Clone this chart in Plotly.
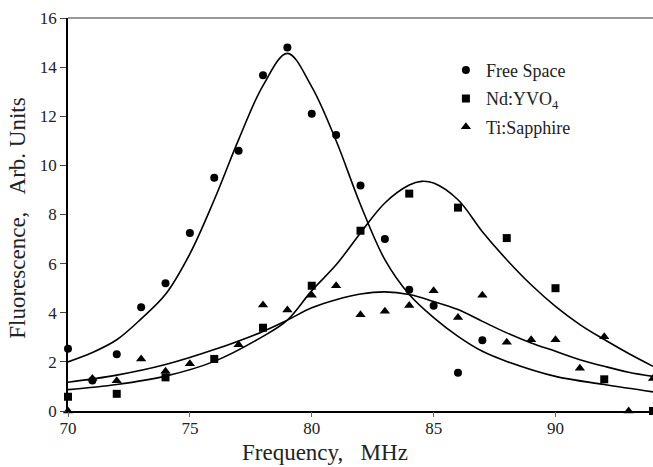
import plotly.graph_objects as go

# ---- data ----
fs_x = [70, 71, 72, 73, 74, 75, 76, 77, 78, 79, 80, 81, 82, 83, 84, 85, 86, 87]
fs_y = [2.53, 1.24, 2.31, 4.22, 5.2, 7.25, 9.5, 10.6, 13.67, 14.8, 12.1, 11.24, 9.18, 7.0, 4.94, 4.29, 1.56, 2.88]

nd_x = [70, 72, 74, 76, 78, 80, 82, 84, 86, 88, 90, 92, 94]
nd_y = [0.58, 0.70, 1.37, 2.12, 3.39, 5.1, 7.34, 8.85, 8.28, 7.04, 5.0, 1.29, 0.0]

ti_x = [70, 71, 72, 73, 74, 75, 77, 78, 79, 80, 81, 82, 83, 84, 85, 86, 87, 88, 89, 90, 91, 92, 93, 94]
ti_y = [0.0, 1.32, 1.23, 2.12, 1.62, 1.92, 2.7, 4.32, 4.11, 4.71, 5.1, 3.92, 4.06, 4.3, 4.9, 3.81, 4.71, 2.8, 2.9, 2.9, 1.74, 3.02, 0.0, 1.32]

# fitted curves
fs_fit_x = [70, 71, 72, 73, 74, 75, 76, 77, 78, 79, 80, 81, 82, 83, 84, 85, 86, 87, 88, 90, 92, 94]
fs_fit_y = [2.0, 2.38, 2.9, 3.75, 4.75, 6.4, 8.6, 11.05, 13.25, 14.56, 13.2, 11.0, 8.4, 6.16, 4.74, 3.8, 3.04, 2.43, 2.02, 1.41, 1.08, 0.78]

nd_fit_x = [70, 72, 74, 76, 78, 79, 80, 81, 82, 83, 84, 84.5, 85, 86, 87, 88, 89, 90, 91, 92, 93, 94]
nd_fit_y = [0.87, 1.08, 1.42, 2.02, 3.04, 3.7, 4.9, 5.95, 7.25, 8.47, 9.2, 9.35, 9.28, 8.6, 7.3, 6.16, 5.14, 4.26, 3.52, 2.91, 2.34, 1.82]

ti_fit_x = [70, 72, 74, 76, 78, 79, 80, 81, 82, 83, 84, 85, 86, 87, 88, 89, 90, 91, 92, 93, 94]
ti_fit_y = [1.17, 1.46, 1.89, 2.5, 3.24, 3.7, 4.2, 4.53, 4.76, 4.85, 4.74, 4.46, 4.13, 3.65, 3.18, 2.77, 2.43, 2.09, 1.82, 1.58, 1.41]

x_ticks = [70, 75, 80, 85, 90]
y_ticks = [0, 2, 4, 6, 8, 10, 12, 14, 16]

FONT = "Liberation Serif"

fig = go.Figure()
line_style = dict(color="black", width=1.6, shape="spline", smoothing=1.0)
for fx, fy in [(fs_fit_x, fs_fit_y), (nd_fit_x, nd_fit_y), (ti_fit_x, ti_fit_y)]:
    fig.add_trace(go.Scatter(x=fx, y=fy, mode="lines", line=line_style,
                             showlegend=False, hoverinfo="skip", cliponaxis=False))

fig.add_trace(go.Scatter(x=fs_x, y=fs_y, mode="markers", name="Free Space",
                         legendgroup="a",
                         marker=dict(symbol="circle", size=8, color="black"),
                         cliponaxis=False))
fig.add_trace(go.Scatter(x=nd_x, y=nd_y, mode="markers", name="Nd:YVO<sub>4</sub>",
                         legendgroup="b",
                         marker=dict(symbol="square", size=8, color="black"),
                         cliponaxis=False))
fig.add_trace(go.Scatter(x=ti_x, y=ti_y, mode="markers", name="Ti:Sapphire",
                         legendgroup="c",
                         marker=dict(symbol="triangle-up", size=9, color="black"),
                         cliponaxis=False))
# empty trace so the tick-mark axis (x2) is drawn
fig.add_trace(go.Scatter(x=[], y=[], xaxis="x2", showlegend=False, hoverinfo="skip"))

fig.update_layout(
    width=653, height=467,
    margin=dict(l=68, r=0, t=18, b=56),
    paper_bgcolor="white", plot_bgcolor="white",
    font=dict(family=FONT, color="#222", size=15),
    showlegend=True,
    legend=dict(x=0.646, y=0.914, xanchor="left", yanchor="top",
                font=dict(family=FONT, size=18, color="#222"),
                traceorder="grouped", tracegroupgap=2,
                bgcolor="rgba(0,0,0,0)", itemwidth=30),
    xaxis=dict(range=[70, 94], tickvals=x_ticks, ticks="",
               showgrid=False, zeroline=False,
               showline=True, linecolor="black", linewidth=1.5,
               ticklabelstandoff=1,
               tickfont=dict(family=FONT, size=17, color="#222")),
    xaxis2=dict(range=[70, 94], tickvals=x_ticks, ticks="outside", ticklen=5,
                tickcolor="#666", tickwidth=1, overlaying="x", anchor="y",
                side="bottom", showticklabels=False, showgrid=False,
                zeroline=False, showline=False),
    yaxis=dict(range=[0, 16], tickvals=y_ticks, ticks="outside", ticklen=6,
               tickcolor="#444", tickwidth=1, showgrid=False, zeroline=False,
               showline=True, linecolor="black", linewidth=1.5,
               tickfont=dict(family=FONT, size=17, color="#222")),
    annotations=[
        dict(text="Frequency,\u00a0\u00a0\u00a0MHz", xref="paper", yref="paper",
             x=(324.5 - 68) / 585, y=-(468 - 411.5) / 393.5, xanchor="center", yanchor="bottom",
             showarrow=False, font=dict(family=FONT, size=23, color="#222")),
        dict(text="Fluorescence,\u00a0\u00a0\u00a0Arb. Units", xref="paper", yref="paper",
             x=-(68 - 18) / 585, y=(411.5 - 219) / 393.5, xanchor="center", yanchor="middle",
             textangle=-90, showarrow=False, font=dict(family=FONT, size=23, color="#222")),
    ],
    shapes=[dict(type="line", xref="paper", yref="paper", x0=0, x1=1, y0=1, y1=1,
                 line=dict(color="#777", width=1.5))],
)

fig.write_html("out.html", config={"displayModeBar": False},
               post_script="document.body.style.margin='0';document.body.style.overflow='hidden';")
